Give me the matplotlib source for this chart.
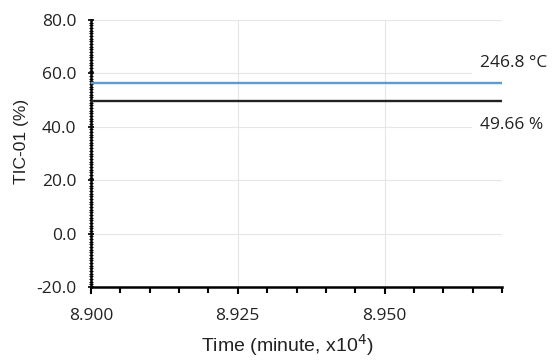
import matplotlib
matplotlib.use("Agg")
import matplotlib.pyplot as plt
from matplotlib.ticker import MultipleLocator, FormatStrFormatter

# Data
x_range = [8.900, 8.970]
temp_line = [56.4, 56.4]     # blue line (246.8 °C), plotted on % scale
tic_line = [49.66, 49.66]    # black line
temp_label = "246.8 °C"
tic_label = "49.66 %"
x_ticks = [8.900, 8.925, 8.950]
y_ticks = [-20.0, 0.0, 20.0, 40.0, 60.0, 80.0]

fig = plt.figure(figsize=(5.55, 3.63), dpi=100)
ax = fig.add_axes([91/555, 1-287/363, (502-91)/555, (287-20)/363])

ax.plot(x_range, temp_line, color="#5b9bd5", lw=1.7, solid_capstyle="butt", zorder=5)
ax.plot(x_range, tic_line, color="#222222", lw=1.7, solid_capstyle="butt", zorder=5)

ax.set_xlim(x_range[0], x_range[1])
ax.set_ylim(-20, 80)
ax.set_xticks(x_ticks)
ax.set_yticks(y_ticks)
ax.xaxis.set_minor_locator(MultipleLocator(0.005))
ax.yaxis.set_minor_locator(MultipleLocator(1.0))
ax.xaxis.set_major_formatter(FormatStrFormatter("%.3f"))
ax.yaxis.set_major_formatter(FormatStrFormatter("%.1f"))

ax.grid(True, which="major", color="#e6e6e6", lw=0.8, zorder=0)
for s in ["top", "right"]:
    ax.spines[s].set_visible(False)
for s in ["left", "bottom"]:
    ax.spines[s].set_linewidth(1.8)
    ax.spines[s].set_color("black")

ax.tick_params(axis="y", which="major", direction="inout", length=5, width=1.2,
               labelsize=12.5, pad=8, colors="black", labelcolor="#222222")
ax.tick_params(axis="y", which="minor", direction="inout", length=3, width=0.8)
ax.tick_params(axis="x", which="major", direction="out", length=5, width=1.5,
               labelsize=12.5, pad=10, labelcolor="#222222")
ax.tick_params(axis="x", which="minor", direction="out", length=4, width=1.5)
for lab in ax.get_xticklabels() + ax.get_yticklabels():
    lab.set_family("Open Sans")

fig.text(22/555, 1-141/363, "TIC-01 (%)", rotation=90, ha="center", va="center",
         fontsize=12.5, family="Liberation Sans", color="#222222")
fig.text(287/555, 1-345/363, "Time (minute, x10$^{4}$)", ha="center", va="center",
         fontsize=14, family="Liberation Sans", color="#222222")

ax.text((480-91)/411, (287-63)/267, temp_label, transform=ax.transAxes,
        ha="left", va="center", fontsize=12.5, family="Open Sans", color="#222222",
        bbox=dict(facecolor="white", edgecolor="none", pad=6), clip_on=False, zorder=4)
ax.text((480-91)/411, (287-125)/267, tic_label, transform=ax.transAxes,
        ha="left", va="center", fontsize=12.5, family="Open Sans", color="#222222",
        bbox=dict(facecolor="white", edgecolor="none", pad=6), clip_on=False, zorder=4)

fig.savefig("out.png", dpi=100)
